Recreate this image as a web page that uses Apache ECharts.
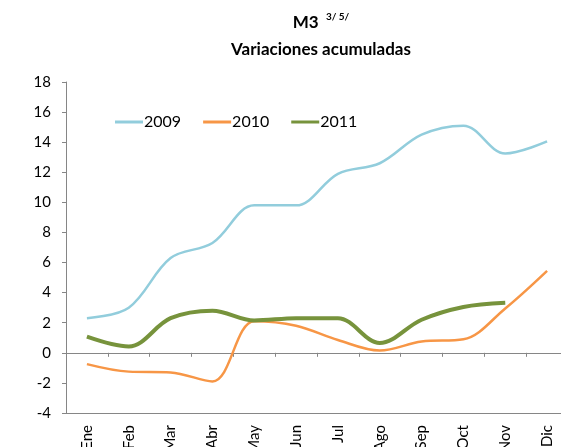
<!DOCTYPE html>
<html>
<head>
<meta charset="utf-8">
<script src="https://cdn.jsdelivr.net/npm/echarts@6/dist/echarts.min.js"></script>
<style>
    html, body { margin: 0; padding: 0; background: #fff; }
    #chart { width: 561px; height: 447px; }
</style>
</head>
<body>
<div id="chart"></div>
<script>
const months = ['Ene', 'Feb', 'Mar', 'Abr', 'May', 'Jun', 'Jul', 'Ago', 'Sep', 'Oct', 'Nov', 'Dic']
const y2009 = [2.3, 3.0, 6.3, 7.3, 9.8, 9.8, 11.9, 12.6, 14.5, 15.1, 13.25, 14.05]
const y2010 = [-0.75, -1.25, -1.3, -1.9, 2.1, 1.8, 0.85, 0.15, 0.75, 0.9, 2.95, 5.45]
const y2011 = [1.07, 0.42, 2.3, 2.8, 2.15, 2.3, 2.3, 0.65, 2.2, 3.05, 3.33]

const font = 'Lato'
const chart = echarts.init(document.getElementById('chart'), null, { renderer: 'canvas' })

const line = (name, data, color, width) => ({
    name,
    type: 'line',
    data,
    smooth: 0.35,
    showSymbol: false,
    symbol: 'none',
    lineStyle: { color, width },
    itemStyle: { color },
    xAxisIndex: 0,
})

chart.setOption({
    animation: false,
    textStyle: { fontFamily: font },
    title: {
        left: 316,
        textAlign: 'center',
        top: 4,
        text: '{a|M3}{s|   3/ 5/}\n{b|Variaciones acumuladas}',
        textStyle: {
            rich: {
                a: { fontFamily: font, fontWeight: 'bold', fontSize: 17, color: '#000', lineHeight: 27 },
                s: { fontFamily: font, fontWeight: 'bold', fontSize: 10, color: '#000', padding: [0, 0, 12, 0] },
                b: { fontFamily: font, fontWeight: 'bold', fontSize: 17, color: '#000', lineHeight: 27 },
            },
        },
    },
    legend: {
        left: 110,
        top: 109,
        itemGap: 22,
        itemWidth: 28,
        itemHeight: 3,
        icon: 'rect',
        textStyle: { fontFamily: font, fontSize: 16, color: '#000', padding: [0, 0, 0, -4] },
        data: ['2009', '2010', '2011'],
    },
    grid: { left: 66, right: -7, top: 82, bottom: 34, outerBoundsMode: 'none', containLabel: false },
    xAxis: [
        {
            type: 'category',
            data: months,
            boundaryGap: true,
            position: 'bottom',
            axisLine: { onZero: false, lineStyle: { color: '#868686', width: 1 } },
            axisTick: { show: false },
            axisLabel: { rotate: 90, fontFamily: font, fontSize: 15, color: '#000', margin: 12, interval: 0 },
            splitLine: { show: false },
        },
        {
            type: 'category',
            data: months,
            boundaryGap: true,
            position: 'bottom',
            axisLine: { onZero: true, lineStyle: { color: '#868686', width: 1 } },
            axisTick: { show: true, inside: false, length: 4, interval: 0, lineStyle: { color: '#868686' } },
            axisLabel: { show: false },
            splitLine: { show: false },
        },
    ],
    yAxis: {
        type: 'value',
        min: -4,
        max: 18,
        interval: 2,
        axisLine: { show: true, lineStyle: { color: '#868686', width: 1 } },
        axisTick: { show: true, inside: false, length: 4, lineStyle: { color: '#868686' } },
        axisLabel: { fontFamily: font, fontSize: 15, color: '#000', margin: 15 },
        splitLine: { show: false },
    },
    series: [
        line('2009', y2009, '#92CDDC', 2.5),
        line('2010', y2010, '#F79646', 2.5),
        line('2011', y2011, '#77933C', 4),
    ],
})
</script>
</body>
</html>
